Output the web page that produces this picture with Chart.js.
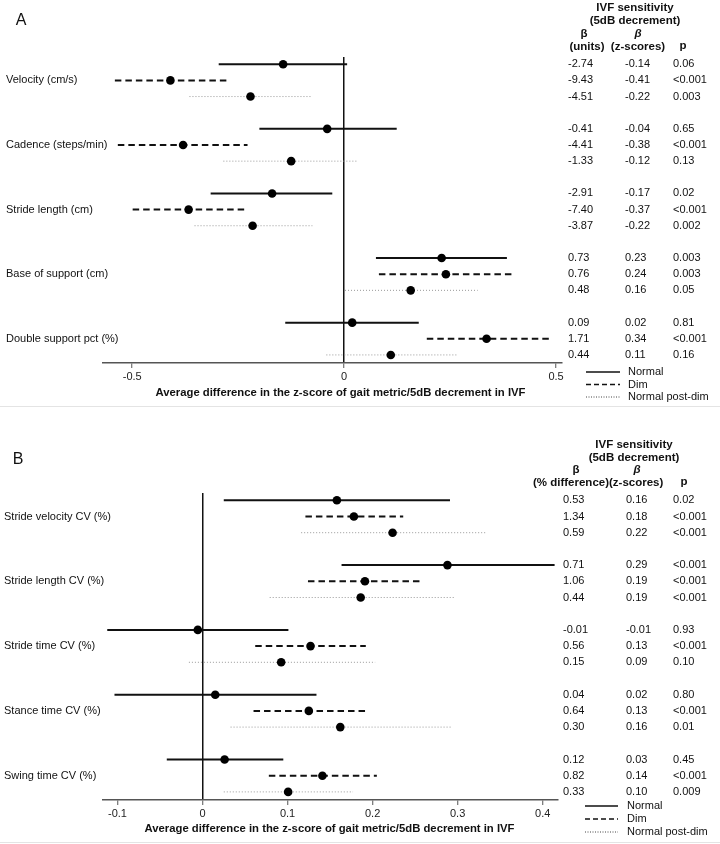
<!DOCTYPE html>
<html><head><meta charset="utf-8">
<script src="https://cdn.jsdelivr.net/npm/chart.js"></script>
<style>
html,body{margin:0;padding:0;background:#fff;}
#wrap{position:relative;width:720px;height:844px;overflow:hidden;background:#fff;}
canvas{position:absolute;left:0;}
#cA{top:0;} #cB{top:406px;}
.sep{position:absolute;left:0;width:720px;height:1px;background:#e4e4e4;}
</style></head><body>
<div id="wrap">
<canvas id="cA" width="720" height="406"></canvas>
<canvas id="cB" width="720" height="438"></canvas>
<div class="sep" style="top:406px"></div>
<div class="sep" style="top:842px"></div>
</div>
<script>
const FONT = '"Liberation Sans", Arial, Helvetica, sans-serif';
Chart.defaults.font.family = FONT;

const seriesNames = ['Normal', 'Dim', 'Normal post-dim'];

// ---------- Panel A ----------
const groupsA = ['Velocity (cm/s)', 'Cadence (steps/min)', 'Stride length (cm)', 'Base of support (cm)', 'Double support pct (%)'];
const normalEstA = [-0.144, -0.040, -0.170, 0.230, 0.019];
const normalLoA  = [-0.296, -0.200, -0.315, 0.075, -0.139];
const normalHiA  = [ 0.007,  0.124, -0.028, 0.384,  0.176];
const dimEstA    = [-0.410, -0.380, -0.367, 0.240,  0.336];
const dimLoA     = [-0.541, -0.534, -0.499, 0.082,  0.195];
const dimHiA     = [-0.273, -0.228, -0.235, 0.397,  0.484];
const postEstA   = [-0.221, -0.125, -0.216, 0.157,  0.110];
const postLoA    = [-0.365, -0.285, -0.353, 0.002, -0.042];
const postHiA    = [-0.075,  0.033, -0.075, 0.315,  0.266];
const betaUnitsA = ['-2.74','-9.43','-4.51','-0.41','-4.41','-1.33','-2.91','-7.40','-3.87','0.73','0.76','0.48','0.09','1.71','0.44'];
const betaZA     = ['-0.14','-0.41','-0.22','-0.04','-0.38','-0.12','-0.17','-0.37','-0.22','0.23','0.24','0.16','0.02','0.34','0.11'];
const pValA      = ['0.06','<0.001','0.003','0.65','<0.001','0.13','0.02','<0.001','0.002','0.003','0.003','0.05','0.81','<0.001','0.16'];
const xTicksA = [-0.5, 0, 0.5];
const xTickLabelsA = ['-0.5', '0', '0.5'];

// ---------- Panel B ----------
const groupsB = ['Stride velocity CV (%)', 'Stride length CV (%)', 'Stride time CV (%)', 'Stance time CV (%)', 'Swing time CV (%)'];
const normalEstB = [0.158, 0.288, -0.0055, 0.015, 0.026];
const normalLoB  = [0.025, 0.1635, -0.112, -0.1035, -0.042];
const normalHiB  = [0.291, 0.414,  0.101,  0.134,  0.095];
const dimEstB    = [0.178, 0.191,  0.127,  0.125,  0.141];
const dimLoB     = [0.121, 0.124,  0.062,  0.060,  0.078];
const dimHiB     = [0.236, 0.258,  0.192,  0.192,  0.205];
const postEstB   = [0.2235, 0.186, 0.0925, 0.162,  0.1007];
const postLoB    = [0.116, 0.079, -0.016,  0.033,  0.025];
const postHiB    = [0.334, 0.296,  0.203,  0.294,  0.177];
const betaPctB   = ['0.53','1.34','0.59','0.71','1.06','0.44','-0.01','0.56','0.15','0.04','0.64','0.30','0.12','0.82','0.33'];
const betaZB     = ['0.16','0.18','0.22','0.29','0.19','0.19','-0.01','0.13','0.09','0.02','0.13','0.16','0.03','0.14','0.10'];
const pValB      = ['0.02','<0.001','<0.001','<0.001','<0.001','<0.001','0.93','<0.001','0.10','0.80','<0.001','0.01','0.45','<0.001','0.009'];
const xTicksB = [-0.1, 0, 0.1, 0.2, 0.3, 0.4];
const xTickLabelsB = ['-0.1', '0', '0.1', '0.2', '0.3', '0.4'];

// ---------- helpers ----------
const rowPos = (g, s) => g * 4 + s;
const lineStyles = [
  { color: '#111', width: 2, dash: [] },
  { color: '#111', width: 2, dash: [6.5, 4] },
  { color: '#999', width: 1, dash: [1, 2] }
];

function buildDatasets(est, lo, hi) {
  const ds = [];
  for (let s = 0; s < 3; s++) {
    for (let g = 0; g < est[s].length; g++) {
      ds.push({
        type: 'line',
        data: [{ x: lo[s][g], y: rowPos(g, s) }, { x: hi[s][g], y: rowPos(g, s) }],
        borderColor: lineStyles[s].color,
        borderWidth: lineStyles[s].width,
        borderDash: lineStyles[s].dash,
        borderCapStyle: 'butt',
        pointRadius: 0,
        fill: false,
        clip: false,
        order: 2
      });
    }
  }
  for (let s = 0; s < 3; s++) {
    ds.push({
      type: 'scatter',
      label: seriesNames[s],
      data: est[s].map((v, g) => ({ x: v, y: rowPos(g, s) })),
      pointRadius: 4.3,
      pointBackgroundColor: '#000',
      pointBorderWidth: 0,
      clip: false,
      order: 1
    });
  }
  return ds;
}

function panelPlugin(cfg) {
  return {
    id: 'panel' + cfg.key,
    afterDraw(chart) {
      const ctx = chart.ctx;
      const ys = chart.scales.y;
      ctx.save();
      ctx.fillStyle = '#111';
      ctx.font = '16px ' + FONT;
      ctx.textAlign = 'center'; ctx.textBaseline = 'middle';
      ctx.fillText(cfg.letter, cfg.letterX, cfg.letterY);
      ctx.font = '11px ' + FONT;
      ctx.textAlign = 'left';
      cfg.groups.forEach((lab, g) => {
        ctx.fillText(lab, cfg.labelX, ys.getPixelForValue(rowPos(g, 1)));
      });
      for (let i = 0; i < cfg.col1.length; i++) {
        const g = Math.floor(i / 3), s = i % 3;
        const y = ys.getPixelForValue(rowPos(g, s));
        ctx.fillText(cfg.col1[i], cfg.colX[0], y);
        ctx.fillText(cfg.col2[i], cfg.colX[1], y);
        ctx.fillText(cfg.col3[i], cfg.colX[2], y);
      }
      ctx.font = 'bold 11.5px ' + FONT;
      ctx.textAlign = 'center';
      ctx.fillText('IVF sensitivity', cfg.hdrX, cfg.hdrY);
      ctx.fillText('(5dB decrement)', cfg.hdrX, cfg.hdrY + 12.5);
      ctx.fillText('β', cfg.beta1X, cfg.betaY);
      ctx.font = 'italic bold 11.5px ' + FONT;
      ctx.fillText('β', cfg.beta2X, cfg.betaY);
      ctx.font = 'bold 11.5px ' + FONT;
      cfg.unitTexts.forEach(t => { ctx.textAlign = t.align; ctx.fillText(t.text, t.x, cfg.unitY); });
      ctx.textAlign = 'center';
      ctx.fillText('p', cfg.pX, cfg.pY);
      ctx.font = 'bold 11.3px ' + FONT;
      ctx.fillText('Average difference in the z-score of gait metric/5dB decrement in IVF', cfg.titleX, cfg.titleY);
      ctx.font = '11px ' + FONT;
      ctx.textAlign = 'left';
      for (let s = 0; s < 3; s++) {
        const ly = cfg.legY[s];
        ctx.beginPath();
        ctx.strokeStyle = s === 2 ? '#444' : '#111';
        ctx.lineWidth = s === 2 ? 1 : 1.3;
        ctx.setLineDash(s === 1 ? [5, 3] : (s === 2 ? [1, 1.5] : []));
        ctx.moveTo(cfg.legX0, ly); ctx.lineTo(cfg.legX1, ly);
        ctx.stroke();
        ctx.setLineDash([]);
        ctx.fillText(seriesNames[s], cfg.legTextX, ly);
      }
      ctx.restore();
    }
  };
}

function makeChart(canvasId, p) {
  return new Chart(document.getElementById(canvasId), {
    data: { datasets: buildDatasets(p.est, p.lo, p.hi) },
    options: {
      responsive: false,
      devicePixelRatio: 1,
      animation: false,
      events: [],
      layout: { padding: { left: p.left, right: 720 - p.right, top: p.top, bottom: 0 } },
      plugins: { legend: { display: false }, tooltip: { enabled: false } },
      scales: {
        x: {
          type: 'linear',
          min: p.xMin, max: p.xMax,
          afterBuildTicks: (sc) => { sc.ticks = p.ticks.map(v => ({ value: v })); },
          afterFit: (sc) => { sc.height = p.axisH; },
          ticks: {
            autoSkip: false, maxRotation: 0, padding: 2,
            color: '#222', font: { size: 11 },
            callback: (v) => { const i = p.ticks.indexOf(v); return i >= 0 ? p.tickLabels[i] : ''; }
          },
          grid: {
            drawOnChartArea: true, drawTicks: true, tickLength: 5,
            color: (c) => (c.tick && c.tick.value === 0) ? '#111' : 'rgba(0,0,0,0)',
            lineWidth: 1.5,
            tickColor: '#555', tickWidth: 1
          },
          border: { display: true, color: '#555', width: 1.5 }
        },
        y: {
          type: 'linear', display: false, reverse: true,
          min: -0.45, max: 18.5
        }
      }
    },
    plugins: [panelPlugin(p.panel)]
  });
}

makeChart('cA', {
  est: [normalEstA, dimEstA, postEstA], lo: [normalLoA, dimLoA, postLoA], hi: [normalHiA, dimHiA, postHiA],
  left: 103, right: 562, top: 57, axisH: 43, xMin: -0.569, xMax: 0.514,
  ticks: xTicksA, tickLabels: xTickLabelsA,
  panel: {
    key: 'A', letter: 'A', letterX: 21, letterY: 21, groups: groupsA, labelX: 6,
    col1: betaUnitsA, col2: betaZA, col3: pValA, colX: [568, 625, 673],
    hdrX: 635, hdrY: 8, beta1X: 584, beta2X: 638, betaY: 34,
    unitTexts: [{ text: '(units)', x: 587, align: 'center' }, { text: '(z-scores)', x: 638, align: 'center' }],
    unitY: 47, pX: 683, pY: 46,
    titleX: 340.5, titleY: 392.5,
    legX0: 586, legX1: 620, legTextX: 628, legY: [372, 384.5, 397]
  }
});

makeChart('cB', {
  est: [normalEstB, dimEstB, postEstB], lo: [normalLoB, dimLoB, postLoB], hi: [normalHiB, dimHiB, postHiB],
  left: 103, right: 558, top: 87, axisH: 44, xMin: -0.117, xMax: 0.418,
  ticks: xTicksB, tickLabels: xTickLabelsB,
  panel: {
    key: 'B', letter: 'B', letterX: 18, letterY: 54, groups: groupsB, labelX: 4,
    col1: betaPctB, col2: betaZB, col3: pValB, colX: [563, 626, 673],
    hdrX: 634, hdrY: 39, beta1X: 576, beta2X: 637, betaY: 64,
    unitTexts: [{ text: '(% difference)', x: 609, align: 'right' }, { text: '(z-scores)', x: 609, align: 'left' }],
    unitY: 77, pX: 684, pY: 76,
    titleX: 329.5, titleY: 423,
    legX0: 585, legX1: 618, legTextX: 627, legY: [400, 413, 426]
  }
});
</script>
</body></html>
